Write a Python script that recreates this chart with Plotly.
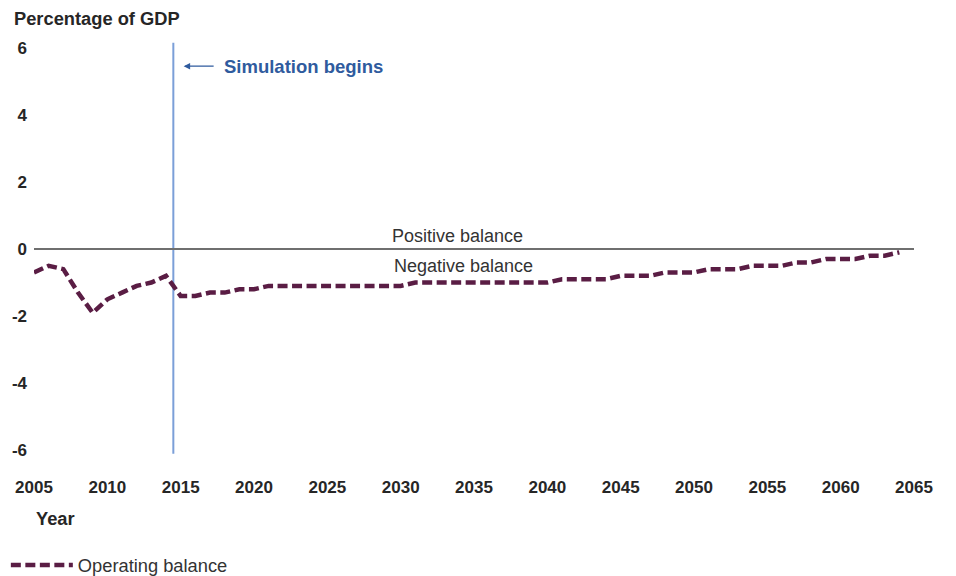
import plotly.graph_objects as go

years = list(range(2005, 2065))
operating_balance = [
    -0.7, -0.5, -0.6, -1.3, -1.9, -1.5, -1.3, -1.1, -1.0, -0.8,   # 2005-2014
    -1.4, -1.4, -1.3, -1.3, -1.2, -1.2, -1.1, -1.1, -1.1, -1.1,   # 2015-2024
    -1.1, -1.1, -1.1, -1.1, -1.1, -1.1, -1.0, -1.0, -1.0, -1.0,   # 2025-2034
    -1.0, -1.0, -1.0, -1.0, -1.0, -1.0, -0.9, -0.9, -0.9, -0.9,   # 2035-2044
    -0.8, -0.8, -0.8, -0.7, -0.7, -0.7, -0.6, -0.6, -0.6, -0.5,   # 2045-2054
    -0.5, -0.5, -0.4, -0.4, -0.3, -0.3, -0.3, -0.2, -0.2, -0.1,   # 2055-2064
]
x_ticks = list(range(2005, 2066, 5))
y_ticks = [6, 4, 2, 0, -2, -4, -6]
y_tick_labels = ["6", "4", "2", "0", "-2", "-4", "-6"]
simulation_start = 2014.5

FONT = "Liberation Sans, Arial, sans-serif"
LINE_COLOR = "#5a1d44"
BLUE = "#2f5b9e"

fig = go.Figure()
fig.add_trace(go.Scatter(
    x=years, y=operating_balance, mode="lines", name="Operating balance",
    line=dict(color=LINE_COLOR, width=4.5, dash="10px,4.5px"),
))

fig.add_shape(type="line", x0=simulation_start, x1=simulation_start, y0=-6.1, y1=6.15,
              xref="x", yref="y", layer="below", line=dict(color="#7b9fd8", width=2))

fig.add_annotation(x=simulation_start + 0.7, y=5.45, ax=simulation_start + 2.85, ay=5.45,
                   xref="x", yref="y", axref="x", ayref="y", text="", showarrow=True,
                   arrowhead=2, arrowsize=1, arrowwidth=1.3, arrowcolor=BLUE)
fig.add_annotation(x=simulation_start + 3.3, y=5.45, xref="x", yref="y",
                   text="<b>Simulation begins</b>", showarrow=False, xanchor="left",
                   font=dict(family=FONT, size=18.5, color=BLUE))
fig.add_annotation(x=2033.9, y=0.38, xref="x", yref="y", text="Positive balance",
                   showarrow=False, font=dict(family=FONT, size=18, color="#333333"))
fig.add_annotation(x=2034.25, y=-0.52, xref="x", yref="y", text="Negative balance",
                   showarrow=False, font=dict(family=FONT, size=18, color="#333333"))
fig.add_annotation(x=-0.025, y=1.053, xref="paper", yref="paper", text="<b>Percentage of GDP</b>",
                   showarrow=False, xanchor="left", yanchor="middle",
                   font=dict(family=FONT, size=18.3, color="#262626"))
fig.add_annotation(x=0.0, y=-0.147, xref="paper", yref="paper", text="<b>Year</b>",
                   showarrow=False, xanchor="left", yanchor="middle",
                   font=dict(family=FONT, size=18.3, color="#262626"))

fig.update_layout(
    width=948, height=568,
    margin=dict(l=26, r=42, t=33, b=119, autoexpand=False),
    plot_bgcolor="white", paper_bgcolor="white",
    font=dict(family=FONT, color="#262626"),
    showlegend=True,
    legend=dict(orientation="h", x=-0.032, y=-0.26, xanchor="left", yanchor="middle",
                itemwidth=62,
                font=dict(family=FONT, size=18.3, color="#333333"), bgcolor="rgba(0,0,0,0)"),
    xaxis=dict(range=[2005, 2065], tickvals=x_ticks, showgrid=False, zeroline=False,
               showline=False, ticks="", ticklabelstandoff=18, automargin=False,
               tickfont=dict(family=FONT, size=17, color="#262626", weight="bold")),
    yaxis=dict(range=[-6.2, 6.2], tickvals=y_ticks, ticktext=y_tick_labels, showgrid=False,
               zeroline=True, zerolinecolor="#6f6f6f", zerolinewidth=1.5, showline=False,
               ticks="", ticklabelstandoff=6, automargin=False,
               tickfont=dict(family=FONT, size=17, color="#262626", weight="bold")),
)

fig.write_html("out.html")
